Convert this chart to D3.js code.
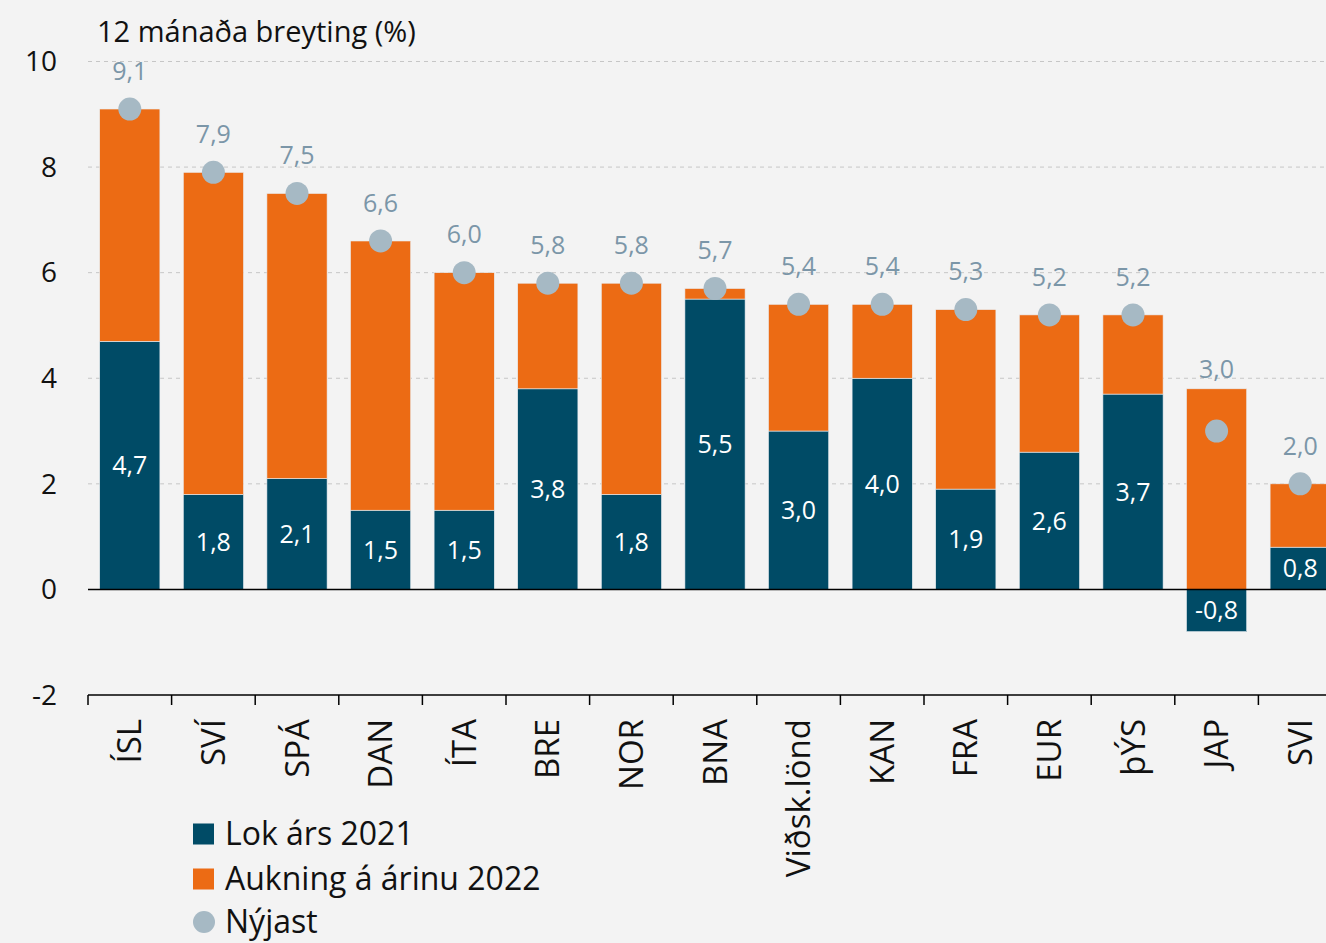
<!DOCTYPE html>
<html>
<head>
<meta charset="utf-8">
<script src="https://cdn.jsdelivr.net/npm/d3@7"></script>
<style>
  body { margin: 0; background: #f3f3f3; }
  svg { display: block; font-family: "Open Sans", "Noto Sans", sans-serif; }
</style>
</head>
<body>
<div id="chart"></div>
<script>
// Data
var categories = ['ÍSL', 'SVÍ', 'SPÁ', 'DAN', 'ÍTA', 'BRE', 'NOR', 'BNA', 'Viðsk.lönd', 'KAN', 'FRA', 'EUR', 'þÝS', 'JAP', 'SVI'];
var lok2021     = [4.7, 1.8, 2.1, 1.5, 1.5, 3.8, 1.8, 5.5, 3.0, 4.0, 1.9, 2.6, 3.7, -0.8, 0.8];
var aukning2022 = [4.4, 6.1, 5.4, 5.1, 4.5, 2.0, 4.0, 0.2, 2.4, 1.4, 3.4, 2.6, 1.5, 3.8, 1.2];
var nyjast      = [9.1, 7.9, 7.5, 6.6, 6.0, 5.8, 5.8, 5.7, 5.4, 5.4, 5.3, 5.2, 5.2, 3.0, 2.0];
var yTicks      = [-2, 0, 2, 4, 6, 8, 10];
var legendLabels = ['Lok árs 2021', 'Aukning á árinu 2022', 'Nýjast'];

var colors = { lok: '#004b66', auk: '#ec6b14', dot: '#a6b9c4', dotLabel: '#7b96a8' };

var width = 1326, height = 943;
var plotLeft = 88;

var fmt = d3.formatLocale({ decimal: ',', thousands: '.', grouping: [3], currency: ['', ''], minus: '-' }).format('.1f');

var rows = categories.map(function(c, i) {
  return { name: c, lok: lok2021[i], auk: aukning2022[i], nyjast: nyjast[i] };
});

var x = d3.scaleBand()
  .domain(categories)
  .range([plotLeft, plotLeft + categories.length * 83.6])
  .paddingInner(0.28)
  .paddingOuter(0.14);

var y = d3.scaleLinear()
  .domain([-2, 10])
  .range([695, 61.5]);

var series = d3.stack()
  .keys(['lok', 'auk'])
  .offset(d3.stackOffsetDiverging)(rows);

var svg = d3.select('#chart').append('svg')
  .attr('width', width)
  .attr('height', height);

svg.append('rect')
  .attr('width', width)
  .attr('height', height)
  .attr('fill', '#f3f3f3');

// gridlines
svg.append('g')
  .selectAll('line')
  .data(yTicks.filter(function(d){ return d > 0; }))
  .enter().append('line')
  .attr('x1', plotLeft)
  .attr('x2', width)
  .attr('y1', function(d){ return y(d); })
  .attr('y2', function(d){ return y(d); })
  .attr('stroke', '#c6c6c6')
  .attr('stroke-width', 1)
  .attr('stroke-dasharray', '4,4');

// y tick labels
svg.append('g')
  .selectAll('text')
  .data(yTicks)
  .enter().append('text')
  .attr('x', 57)
  .attr('y', function(d){ return y(d); })
  .attr('dy', '0.35em')
  .attr('text-anchor', 'end')
  .attr('font-size', 28)
  .attr('fill', '#111')
  .text(function(d){ return d; });

// title
svg.append('text')
  .attr('x', 97)
  .attr('y', 42)
  .attr('font-size', 29)
  .attr('fill', '#111')
  .text('12 mánaða breyting (%)');

// bars
svg.append('g')
  .selectAll('g')
  .data(series)
  .enter().append('g')
  .attr('fill', function(s){ return colors[s.key]; })
  .selectAll('rect')
  .data(function(s){ return s; })
  .enter().append('rect')
  .attr('x', function(d){ return x(d.data.name); })
  .attr('width', x.bandwidth())
  .attr('y', function(d){ return y(Math.max(d[0], d[1])); })
  .attr('height', function(d){ return Math.abs(y(d[0]) - y(d[1])); })
  .attr('stroke', '#e9eef2')
  .attr('stroke-width', 0.6);

// zero line
svg.append('line')
  .attr('x1', plotLeft)
  .attr('x2', width)
  .attr('y1', y(0))
  .attr('y2', y(0))
  .attr('stroke', '#000')
  .attr('stroke-width', 1.5);

// bottom axis at -2 with ticks between categories
var gap = (x.step() - x.bandwidth()) / 2;
var bottom = svg.append('g').attr('transform', 'translate(0,' + y(-2) + ')');
bottom.append('line')
  .attr('x1', plotLeft)
  .attr('x2', width)
  .attr('stroke', '#000')
  .attr('stroke-width', 1.5);
bottom.selectAll('.tick')
  .data(categories)
  .enter().append('line')
  .attr('x1', function(d){ return x(d) - gap; })
  .attr('x2', function(d){ return x(d) - gap; })
  .attr('y1', 0)
  .attr('y2', 10)
  .attr('stroke', '#000')
  .attr('stroke-width', 1.5);

// category labels
svg.append('g')
  .selectAll('text')
  .data(categories)
  .enter().append('text')
  .attr('transform', function(d){ return 'translate(' + (x(d) + x.bandwidth() / 2) + ',719) rotate(-90)'; })
  .attr('dy', '0.35em')
  .attr('text-anchor', 'end')
  .attr('font-size', 33)
  .attr('fill', '#111')
  .text(function(d){ return d; });

// white labels inside dark bars
svg.append('g')
  .selectAll('text')
  .data(series[0])
  .enter().append('text')
  .attr('x', function(d){ return x(d.data.name) + x.bandwidth() / 2; })
  .attr('y', function(d){ return (y(d[0]) + y(d[1])) / 2; })
  .attr('dy', '0.35em')
  .attr('text-anchor', 'middle')
  .attr('font-size', 25)
  .attr('fill', '#fff')
  .text(function(d){ return fmt(d.data.lok); });

// latest dots
svg.append('g')
  .selectAll('circle')
  .data(rows)
  .enter().append('circle')
  .attr('cx', function(d){ return x(d.name) + x.bandwidth() / 2; })
  .attr('cy', function(d){ return y(d.nyjast); })
  .attr('r', 11.5)
  .attr('fill', colors.dot);

svg.append('g')
  .selectAll('text')
  .data(series[1])
  .enter().append('text')
  .attr('x', function(d){ return x(d.data.name) + x.bandwidth() / 2; })
  .attr('y', function(d){ return Math.min(y(d.data.nyjast) - 38, y(d[1]) - 20); })
  .attr('dy', '0.35em')
  .attr('text-anchor', 'middle')
  .attr('font-size', 25)
  .attr('fill', colors.dotLabel)
  .text(function(d){ return fmt(d.data.nyjast); });

// legend
var legend = svg.append('g').attr('transform', 'translate(193,0)');
var legendY = [834, 879, 922];
legendLabels.forEach(function(label, i) {
  if (i < 2) {
    legend.append('rect')
      .attr('x', 0)
      .attr('y', legendY[i] - 10.5)
      .attr('width', 21)
      .attr('height', 21)
      .attr('fill', i === 0 ? colors.lok : colors.auk);
  } else {
    legend.append('circle')
      .attr('cx', 11)
      .attr('cy', legendY[i])
      .attr('r', 11)
      .attr('fill', colors.dot);
  }
  legend.append('text')
    .attr('x', 32)
    .attr('y', legendY[i])
    .attr('dy', '0.35em')
    .attr('font-size', 32)
    .attr('fill', '#111')
    .text(label);
});
</script>
</body>
</html>
